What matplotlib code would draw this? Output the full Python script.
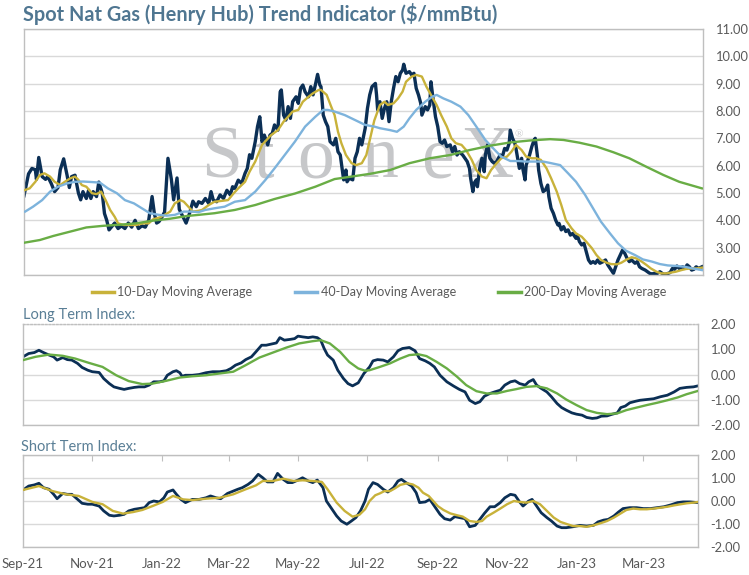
import pandas as pd
import matplotlib
matplotlib.use('Agg')
import matplotlib.pyplot as plt
import matplotlib.dates as mdates
from matplotlib.lines import Line2D

plt.rcParams['font.family'] = ['Lato', 'DejaVu Sans']

START = pd.Timestamp('2021-09-01')

# spot price, days counted from START
spot_days = [0, 4, 7, 10, 11, 13, 16, 19, 21, 24, 27, 30, 32, 35, 38, 40, 42, 45, 48, 50,
             52, 55, 57, 59, 61, 64, 66, 69, 71, 73, 75, 77, 80, 83, 86, 89, 92, 95, 98, 101,
             104, 107, 110, 113, 115, 117, 119, 121, 124, 127, 130, 132, 135, 137, 140, 143, 146, 149, 152, 154,
             157, 160, 163, 165, 167, 170, 173, 176, 179, 182, 184, 186, 189, 192, 195, 197, 199, 201, 204, 206,
             208, 210, 212, 215, 217, 219, 221, 224, 226, 227, 229, 231, 233, 235, 237, 240, 242, 244, 246, 248,
             251, 253, 255, 257, 259, 261, 262, 264, 266, 268, 270, 273, 275, 277, 279, 282, 284, 285, 287, 290,
             292, 294, 296, 298, 301, 303, 305, 307, 310, 311, 312, 314, 316, 318, 320, 322, 324, 326, 328, 330,
             332, 334, 335, 337, 340, 342, 344, 346, 348, 350, 351, 354, 356, 358, 359, 361, 363, 365, 367, 369,
             371, 373, 376, 378, 380, 382, 384, 387, 389, 391, 393, 394, 396, 397, 399, 400, 402, 404, 406, 407,
             409, 411, 413, 415, 417, 420, 422, 424, 426, 428, 429, 431, 433, 434, 436, 437, 439, 440, 442, 443,
             446, 448, 450, 451, 453, 454, 456, 458, 460, 462, 463, 465, 467, 469, 471, 472, 474, 476, 478, 480,
             482, 484, 487, 488, 490, 492, 494, 496, 498, 500, 502, 504, 506, 508, 511, 513, 515, 518, 520, 522,
             524, 526, 528, 530, 532, 534, 536, 539, 541, 543, 545, 548, 550, 552, 554, 556, 558, 561, 563, 565,
             567, 570, 572, 574, 576, 578, 581, 583, 585, 587, 589, 591, 593, 595, 598]
spot_vals = [4.9, 5.7, 5.9, 5.85, 5.5, 6.3, 5.6, 5.5, 5.6, 5.35, 5.05, 5.2, 5.85, 6.25, 5.65, 5.2, 5.6, 5.65, 5.0, 4.75,
             5.05, 4.8, 5.1, 4.8, 5.05, 4.87, 5.4, 5.0, 4.25, 4.0, 3.65, 3.75, 3.9, 3.7, 3.8, 3.7, 3.9, 3.75, 4.0, 3.7,
             3.8, 3.75, 4.0, 4.87, 4.25, 3.9, 3.95, 4.07, 4.3, 6.27, 5.5, 4.75, 5.55, 4.4, 4.15, 3.9, 4.25, 4.7, 4.5, 4.68,
             4.62, 4.8, 4.62, 5.05, 4.74, 4.68, 4.93, 4.8, 5.1, 4.93, 5.23, 5.17, 5.47, 5.35, 5.72, 5.9, 6.4, 6.27, 6.88, 7.43,
             7.79, 6.88, 7.12, 6.76, 7.12, 7.18, 7.49, 7.3, 8.7, 8.77, 7.85, 7.67, 8.16, 7.73, 8.34, 8.52, 8.28, 8.83, 8.95, 8.7,
             8.52, 8.89, 8.59, 8.95, 9.34, 8.95, 8.89, 7.85, 7.61, 7.43, 6.88, 6.76, 7.0, 6.51, 6.39, 5.48, 5.84, 5.41, 5.54, 5.48,
             6.27, 6.51, 7.0, 6.76, 7.37, 8.1, 8.59, 8.89, 9.01, 8.59, 8.04, 8.34, 7.73, 8.1, 8.34, 7.61, 8.34, 8.83, 9.26, 9.07,
             9.38, 9.5, 9.71, 9.38, 9.44, 9.32, 9.38, 8.83, 8.59, 8.28, 7.85, 8.16, 8.04, 8.22, 9.07, 8.4, 7.79, 7.43, 6.88, 6.82,
             6.94, 6.7, 6.76, 6.51, 6.7, 6.39, 6.51, 6.39, 6.27, 6.15, 5.9, 5.54, 5.05, 5.35, 5.48, 5.23, 5.9, 6.27, 5.78, 6.39,
             6.76, 6.27, 6.15, 6.09, 6.15, 6.39, 6.33, 6.63, 6.57, 6.82, 7.3, 7.0, 6.82, 6.63, 6.15, 5.9, 6.27, 5.9, 5.48, 6.02,
             6.39, 6.7, 6.94, 7.0, 6.33, 5.84, 5.35, 5.05, 5.11, 5.29, 4.87, 4.44, 4.26, 4.01, 3.83, 3.89, 3.65, 3.77, 3.59, 3.65,
             3.46, 3.52, 3.34, 3.46, 3.22, 3.1, 3.16, 2.85, 2.55, 2.43, 2.49, 2.43, 2.55, 2.43, 2.49, 2.55, 2.37, 2.18, 2.06, 2.3,
             2.55, 2.73, 2.91, 2.79, 2.61, 2.49, 2.55, 2.43, 2.49, 2.3, 2.24, 2.18, 2.12, 2.06, 2.04, 2.06, 2.04, 2.12, 2.06, 2.02,
             2.04, 2.09, 2.24, 2.21, 2.33, 2.24, 2.3, 2.24, 2.37, 2.3, 2.18, 2.21, 2.3, 2.24, 2.3]

ma10_days = [1, 5, 10, 14, 18, 23, 27, 32, 36, 41, 45, 48, 51, 55, 60, 64, 68, 72, 76, 80,
             83, 88, 93, 99, 105, 110, 114, 120, 124, 129, 133, 138, 141, 145, 149, 154, 157, 163, 168, 174,
             180, 185, 189, 195, 199, 204, 210, 214, 218, 224, 229, 233, 237, 242, 246, 251, 255, 260, 262, 267,
             271, 274, 277, 280, 284, 289, 293, 298, 302, 306, 309, 314, 318, 321, 326, 330, 334, 337, 342, 346,
             351, 355, 359, 364, 368, 373, 377, 381, 386, 390, 395, 399, 404, 408, 412, 417, 421, 426, 430, 434,
             439, 443, 448, 452, 456, 461, 465, 470, 474, 478, 483, 487, 492, 496, 501, 505, 509, 514, 518, 523,
             527, 531, 536, 540, 545, 549, 553, 558, 562, 567, 571, 575, 580, 584, 589, 593, 598]
ma10_vals = [5.11, 5.17, 5.41, 5.66, 5.72, 5.6, 5.41, 5.29, 5.41, 5.54, 5.6, 5.48, 5.29, 5.23, 4.99, 4.96, 5.05, 4.74, 4.38, 4.13,
             3.89, 3.83, 3.83, 3.83, 3.89, 3.89, 4.04, 4.11, 4.2, 4.32, 4.62, 4.74, 4.68, 4.5, 4.32, 4.35, 4.38, 4.56, 4.68, 4.71,
             4.74, 4.99, 5.17, 5.41, 5.78, 6.15, 6.76, 6.94, 7.12, 7.3, 7.61, 7.79, 7.98, 8.04, 8.34, 8.52, 8.65, 8.77, 8.77, 8.59,
             8.16, 7.85, 7.24, 6.82, 6.39, 6.09, 6.02, 6.09, 6.39, 7.12, 7.65, 8.22, 8.34, 8.22, 8.28, 8.46, 8.71, 9.07, 9.26, 9.32,
             9.26, 8.89, 8.59, 8.22, 7.85, 7.43, 7.0, 6.82, 6.76, 6.57, 6.21, 5.84, 5.6, 5.54, 5.84, 6.09, 6.27, 6.33, 6.51, 6.76,
             6.57, 6.33, 6.27, 6.27, 6.21, 5.9, 5.54, 5.05, 4.56, 4.01, 3.71, 3.52, 3.4, 3.22, 2.98, 2.73, 2.55, 2.45, 2.4, 2.39,
             2.45, 2.55, 2.65, 2.61, 2.49, 2.37, 2.24, 2.12, 2.06, 2.06, 2.09, 2.12, 2.18, 2.22, 2.24, 2.24, 2.27]

ma40_days = [1, 8, 16, 23, 30, 38, 45, 52, 60, 67, 74, 82, 89, 97, 104, 111, 119, 126, 133, 141,
             148, 154, 160, 168, 177, 186, 195, 204, 213, 221, 230, 239, 248, 257, 264, 268, 274, 283, 292, 301,
             309, 314, 323, 329, 335, 340, 346, 354, 360, 364, 370, 377, 385, 392, 399, 407, 414, 421, 429, 436,
             443, 451, 458, 464, 473, 480, 487, 495, 502, 509, 517, 524, 531, 539, 546, 554, 561, 568, 576, 583,
             590, 598]
ma40_vals = [4.32, 4.5, 4.74, 5.05, 5.23, 5.35, 5.41, 5.42, 5.4, 5.38, 5.17, 4.99, 4.74, 4.62, 4.44, 4.26, 4.2, 4.17, 4.2, 4.32,
             4.32, 4.3, 4.38, 4.44, 4.5, 4.68, 4.74, 5.05, 5.48, 5.9, 6.39, 6.88, 7.43, 7.79, 8.04, 8.04, 7.98, 7.85, 7.67, 7.49,
             7.43, 7.37, 7.3, 7.24, 7.43, 7.73, 8.04, 8.34, 8.52, 8.59, 8.46, 8.34, 8.16, 7.85, 7.43, 6.94, 6.63, 6.33, 6.17, 6.17,
             6.15, 6.15, 6.15, 6.1, 6.02, 5.72, 5.41, 4.93, 4.44, 3.95, 3.52, 3.16, 2.89, 2.73, 2.57, 2.49, 2.4, 2.35, 2.33, 2.3,
             2.24, 2.18]

ma200_days = [0, 14, 26, 41, 55, 70, 85, 99, 114, 129, 144, 154, 168, 186, 204, 221, 239, 257, 274, 292,
              305, 323, 340, 358, 376, 393, 411, 429, 446, 464, 476, 490, 505, 520, 534, 549, 564, 578, 593, 598]
ma200_vals = [3.18, 3.28, 3.43, 3.59, 3.74, 3.8, 3.84, 3.89, 3.99, 4.06, 4.16, 4.2, 4.26, 4.38, 4.56, 4.78, 4.98, 5.23, 5.51, 5.62,
              5.7, 5.84, 6.09, 6.27, 6.39, 6.57, 6.73, 6.85, 6.92, 6.97, 6.94, 6.84, 6.7, 6.49, 6.27, 5.96, 5.66, 5.41, 5.23, 5.17]

# long term index
lt_days = [0, 5, 10, 14, 18, 23, 27, 30, 35, 39, 43, 48, 52, 57, 61, 67, 71, 76, 80, 85,
           89, 93, 98, 102, 107, 111, 115, 120, 124, 127, 132, 135, 138, 140, 143, 149, 155, 161, 167, 173,
           179, 183, 187, 192, 196, 201, 205, 210, 214, 218, 223, 226, 230, 235, 239, 242, 246, 251, 255, 259,
           262, 265, 268, 273, 277, 282, 286, 290, 295, 300, 305, 308, 312, 317, 321, 326, 330, 334, 340, 345,
           349, 354, 358, 362, 367, 373, 379, 384, 389, 393, 398, 402, 406, 411, 415, 420, 424, 429, 433, 437,
           442, 445, 449, 452, 456, 461, 465, 470, 474, 478, 483, 487, 492, 496, 501, 505, 509, 514, 518, 523,
           526, 530, 534, 539, 543, 549, 555, 561, 567, 573, 578, 584, 590, 594]
lt_vals = [0.70, 0.83, 0.87, 0.96, 0.87, 0.77, 0.70, 0.57, 0.67, 0.59, 0.57, 0.44, 0.28, 0.17, 0.11, 0.08, -0.16, -0.36, -0.49, -0.55,
           -0.59, -0.55, -0.51, -0.49, -0.49, -0.42, -0.29, -0.29, -0.25, -0.03, 0.11, 0.15, 0.07, -0.07, -0.03, -0.03, 0.0, 0.07, 0.11, 0.11,
           0.15, 0.24, 0.37, 0.46, 0.59, 0.70, 0.90, 1.16, 1.16, 1.20, 1.25, 1.46, 1.36, 1.39, 1.42, 1.52, 1.49, 1.46, 1.49, 1.46,
           1.36, 1.03, 0.77, 0.57, 0.17, -0.16, -0.36, -0.45, -0.33, 0.04, 0.30, 0.54, 0.59, 0.57, 0.50, 0.70, 0.94, 1.03, 1.07, 0.94,
           0.63, 0.54, 0.44, 0.30, -0.03, -0.29, -0.46, -0.59, -0.69, -1.02, -1.15, -1.08, -0.86, -0.75, -0.69, -0.62, -0.42, -0.29, -0.25, -0.36,
           -0.42, -0.29, -0.20, -0.42, -0.55, -0.69, -0.88, -1.15, -1.31, -1.41, -1.52, -1.57, -1.61, -1.70, -1.74, -1.72, -1.65, -1.64, -1.58, -1.52,
           -1.31, -1.25, -1.12, -1.06, -1.02, -0.99, -0.96, -0.88, -0.82, -0.69, -0.55, -0.51, -0.49, -0.45]
lt_avg_days = [0, 11, 23, 35, 46, 58, 70, 82, 93, 105, 114, 126, 138, 149, 161, 173, 185, 196, 208, 220,
               232, 243, 255, 262, 270, 279, 287, 295, 301, 305, 314, 323, 332, 340, 348, 355, 364, 373, 382, 390,
               399, 408, 417, 426, 434, 443, 452, 461, 470, 478, 487, 496, 505, 514, 523, 531, 540, 549, 558, 567,
               576, 584, 594]
lt_avg_vals = [0.57, 0.70, 0.79, 0.74, 0.63, 0.46, 0.30, -0.03, -0.26, -0.38, -0.36, -0.25, -0.12, -0.07, -0.03, 0.04, 0.11, 0.37, 0.67, 0.87,
               1.07, 1.23, 1.32, 1.36, 1.23, 0.90, 0.50, 0.24, 0.15, 0.17, 0.30, 0.44, 0.63, 0.77, 0.80, 0.73, 0.50, 0.24, -0.09, -0.42,
               -0.66, -0.75, -0.75, -0.65, -0.58, -0.49, -0.46, -0.55, -0.75, -0.99, -1.21, -1.41, -1.52, -1.57, -1.54, -1.41, -1.31, -1.21, -1.12, -1.02,
               -0.91, -0.78, -0.65]

# short term index
st_days = [0, 5, 10, 14, 18, 23, 27, 30, 35, 39, 43, 48, 52, 57, 61, 67, 71, 76, 80, 85,
           89, 93, 98, 102, 107, 111, 115, 120, 124, 127, 132, 135, 139, 143, 149, 155, 161, 165, 170, 174,
           180, 185, 189, 193, 198, 202, 207, 211, 215, 220, 224, 229, 233, 237, 242, 246, 251, 255, 259, 264,
           267, 271, 276, 280, 285, 289, 293, 297, 301, 304, 308, 312, 317, 321, 326, 330, 333, 337, 342, 346,
           349, 354, 358, 362, 367, 371, 376, 380, 384, 389, 393, 398, 402, 406, 411, 415, 420, 424, 429, 433,
           437, 440, 445, 448, 452, 456, 461, 465, 470, 474, 478, 484, 490, 496, 502, 506, 511, 515, 520, 524,
           528, 534, 540, 546, 552, 558, 564, 570, 576, 581, 587, 594]
st_vals = [0.48, 0.65, 0.70, 0.77, 0.58, 0.51, 0.29, 0.10, 0.33, 0.29, 0.29, 0.07, -0.10, -0.14, -0.14, -0.22, -0.43, -0.62, -0.65, -0.62,
           -0.58, -0.43, -0.36, -0.33, -0.29, -0.07, 0.0, -0.04, 0.14, 0.39, 0.48, 0.29, 0.07, -0.07, 0.07, 0.07, 0.14, 0.22, 0.14, 0.10,
           0.33, 0.43, 0.51, 0.58, 0.72, 0.87, 1.16, 1.01, 0.83, 0.83, 1.20, 0.94, 0.80, 0.80, 0.91, 1.01, 0.87, 0.80, 0.91, 0.58,
           0.0, -0.29, -0.65, -0.87, -1.01, -0.87, -0.72, -0.43, 0.0, 0.51, 0.80, 0.72, 0.51, 0.39, 0.58, 0.87, 0.94, 0.80, 0.65, 0.36,
           -0.07, -0.04, 0.07, -0.22, -0.58, -0.77, -0.83, -0.68, -0.72, -0.77, -1.12, -1.06, -0.80, -0.54, -0.25, -0.25, -0.07, 0.14, 0.29, 0.25,
           -0.04, -0.22, 0.0, 0.07, -0.22, -0.51, -0.72, -0.87, -1.09, -1.16, -1.16, -1.12, -1.06, -1.09, -1.06, -0.91, -0.83, -0.80, -0.65, -0.48,
           -0.33, -0.29, -0.29, -0.33, -0.33, -0.29, -0.25, -0.17, -0.07, -0.04, -0.04, -0.07]
st_avg_days = [0, 14, 26, 38, 49, 61, 70, 79, 88, 97, 105, 114, 123, 132, 141, 149, 161, 173, 185, 196,
               205, 211, 220, 229, 238, 246, 255, 263, 268, 276, 283, 290, 296, 301, 305, 310, 314, 318, 323, 327,
               332, 338, 343, 348, 352, 357, 361, 365, 370, 376, 382, 387, 393, 399, 404, 408, 414, 420, 426, 432,
               437, 443, 449, 455, 461, 467, 473, 479, 484, 490, 496, 502, 508, 514, 520, 526, 531, 537, 543, 549,
               555, 561, 567, 573, 579, 584, 590, 594]
st_avg_vals = [0.48, 0.65, 0.43, 0.29, 0.22, -0.04, -0.14, -0.43, -0.55, -0.48, -0.39, -0.22, -0.04, 0.22, 0.07, 0.04, 0.10, 0.14, 0.29, 0.51,
               0.68, 0.87, 0.87, 0.97, 0.87, 0.90, 0.87, 0.83, 0.51, -0.07, -0.43, -0.68, -0.60, -0.36, 0.0, 0.25, 0.33, 0.43, 0.43, 0.54,
               0.70, 0.77, 0.72, 0.58, 0.36, 0.22, 0.0, -0.22, -0.39, -0.54, -0.62, -0.68, -0.87, -0.91, -0.87, -0.68, -0.51, -0.33, -0.14, 0.0,
               -0.04, -0.07, 0.0, -0.14, -0.43, -0.72, -0.91, -1.01, -1.09, -1.09, -1.12, -1.06, -0.97, -0.87, -0.72, -0.54, -0.39, -0.33, -0.36, -0.36,
               -0.33, -0.29, -0.25, -0.19, -0.14, -0.10, -0.07, -0.04]

price_ticks = [2, 3, 4, 5, 6, 7, 8, 9, 10, 11]
index_ticks = [-2, -1, 0, 1, 2]

NAVY = '#0B2F55'
GOLD = '#C8B23A'
BLUE = '#7DB3DC'
GREEN = '#69AD45'
TITLE_C = '#4F7691'
LABEL_C = '#595959'


def to_dates(days):
    return START + pd.to_timedelta(days, unit='D')


W, H = 749, 575
fig = plt.figure(figsize=(W / 100, H / 100), dpi=100)


def px_axes(left, top, right, bottom):
    return fig.add_axes([left / W, 1 - bottom / H, (right - left) / W, (bottom - top) / H])


ax = px_axes(24, 29, 703, 275)
ax_lt = px_axes(23, 324, 698, 425)
ax_st = px_axes(23, 455, 698, 547)

for a in (ax, ax_lt, ax_st):
    a.yaxis.tick_right()
    a.tick_params(axis='y', length=0, labelsize=9.3, labelcolor=LABEL_C, pad=9)
    for s in a.spines.values():
        s.set_color('#BFBFBF')
        s.set_linewidth(1)
    a.grid(axis='y', color='#D9D9D9', lw=1)
    a.set_axisbelow(True)

# main price panel
ax.plot(to_dates(spot_days), spot_vals, color=NAVY, lw=2.4, zorder=2)
ax.plot(to_dates(ma10_days), ma10_vals, color=GOLD, lw=1.7, zorder=3)
ax.plot(to_dates(ma40_days), ma40_vals, color=BLUE, lw=1.7, zorder=3)
ax.plot(to_dates(ma200_days), ma200_vals, color=GREEN, lw=1.7, zorder=3)
ax.set_ylim(2, 11)
ax.set_yticks(price_ticks)
ax.set_yticklabels([f'{v:.2f}' for v in price_ticks])
ax.set_xlim(to_dates([0])[0], to_dates([599])[0])
ax.set_xticks([])

# watermark, drawn behind the lines
wm_letters = ['S', 't', 'o', 'n', 'e', 'X']
wm_x = [222, 264, 316, 380, 437, 487]
for ch, xc in zip(wm_letters, wm_x):
    ax.text(xc / W, 1 - 177 / H, ch, transform=fig.transFigure, ha='center', va='baseline',
            fontsize=53, family='Liberation Serif', color='#C6C7C9', zorder=1)
ax.text(519 / W, 1 - 135 / H, '®', transform=fig.transFigure, ha='center', va='center',
        fontsize=8, family='Liberation Serif', color='#C6C7C9', zorder=1)

# long term index
ax_lt.plot(to_dates(lt_days), lt_vals, color=NAVY, lw=2.0, zorder=2)
ax_lt.plot(to_dates(lt_avg_days), lt_avg_vals, color=GREEN, lw=1.7, zorder=3)
ax_lt.spines['top'].set_linestyle(':')

# short term index
ax_st.plot(to_dates(st_days), st_vals, color=NAVY, lw=2.0, zorder=2)
ax_st.plot(to_dates(st_avg_days), st_avg_vals, color=GOLD, lw=1.7, zorder=3)

for a in (ax_lt, ax_st):
    a.set_ylim(-2, 2)
    a.set_yticks(index_ticks)
    a.set_yticklabels([f'{v:.2f}' for v in index_ticks])
    a.set_xlim(to_dates([0])[0], to_dates([594])[0])
ax_lt.set_xticks([])

ax_st.xaxis.set_major_locator(mdates.MonthLocator(bymonth=(1, 3, 5, 7, 9, 11)))
ax_st.xaxis.set_major_formatter(mdates.DateFormatter('%b-%y'))
ax_st.tick_params(axis='x', bottom=False, top=True, direction='in', length=4, color='#BFBFBF',
                  labelbottom=True, labeltop=False, labelsize=9.5, labelcolor=LABEL_C, pad=8)

# texts
fig.text(23 / W, 1 - 14 / H, 'Spot Nat Gas (Henry Hub) Trend Indicator ($/mmBtu)', fontsize=14.3,
         fontweight='bold', color=TITLE_C, va='center', ha='left')
fig.text(23 / W, 1 - 315 / H, 'Long Term Index:', fontsize=10.5, color='#5A7F96', va='center', ha='left')
fig.text(21 / W, 1 - 447 / H, 'Short Term Index:', fontsize=10.5, color='#5A7F96', va='center', ha='left')

handles = [Line2D([], [], color=GOLD, lw=2.5), Line2D([], [], color=BLUE, lw=2.5),
           Line2D([], [], color=GREEN, lw=2.5)]
labels = ['10-Day Moving Average', '40-Day Moving Average', '200-Day Moving Average']
fig.legend(handles, labels, loc='center', bbox_to_anchor=(379 / W, 1 - 292 / H), ncol=3, frameon=False,
           handlelength=1.8, handletextpad=0.25, columnspacing=3.4, fontsize=9, labelcolor=LABEL_C)

fig.savefig('out.png', dpi=100)
